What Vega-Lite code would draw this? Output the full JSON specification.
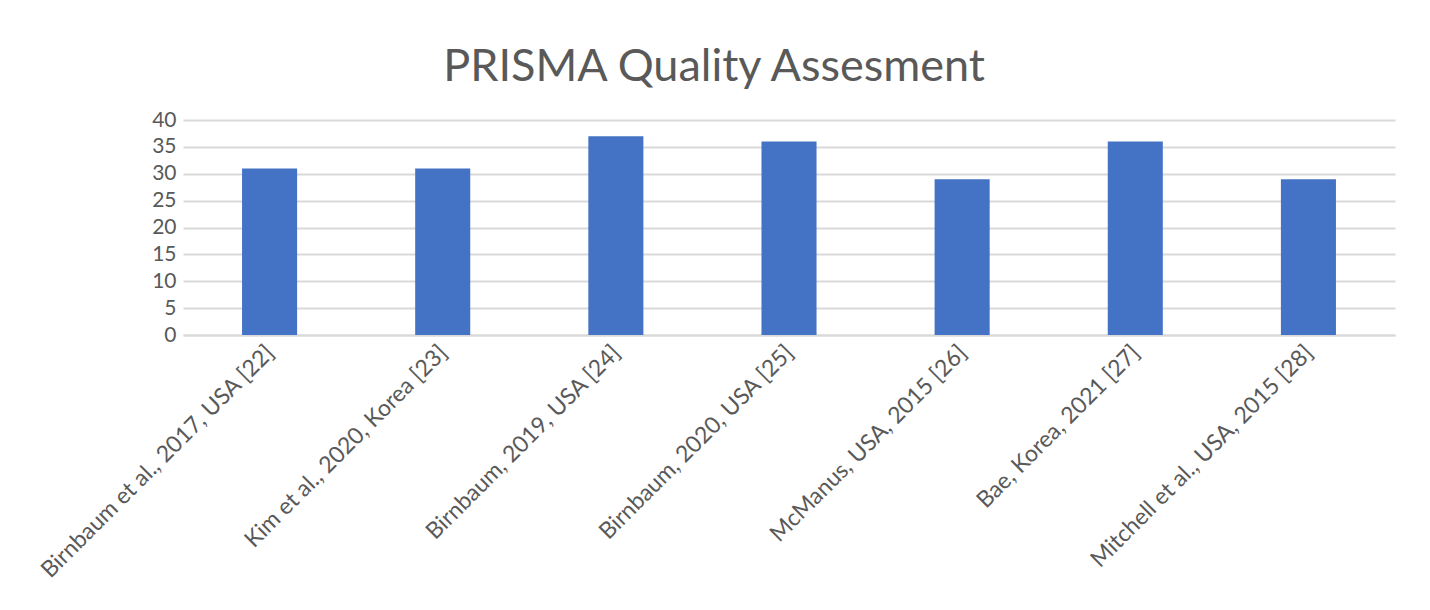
{
  "$schema": "https://vega.github.io/schema/vega-lite/v6.json",
  "width": 1212,
  "height": 215,
  "autosize": {"type": "none"},
  "padding": {"left": 183, "top": 120, "right": 35, "bottom": 275},
  "background": "white",
  "title": {
    "text": "PRISMA Quality Assesment",
    "font": "Lato",
    "fontSize": 45,
    "fontWeight": "normal",
    "color": "#595959",
    "anchor": "middle",
    "dx": -75,
    "offset": 19
  },
  "config": {
    "view": {"stroke": null},
    "font": "Lato"
  },
  "data": {
    "values": [
      {"study": "Birnbaum et al., 2017, USA [22]", "score": 31},
      {"study": "Kim et al., 2020, Korea [23]", "score": 31},
      {"study": "Birnbaum, 2019, USA [24]", "score": 37},
      {"study": "Birnbaum, 2020, USA [25]", "score": 36},
      {"study": "McManus, USA, 2015 [26]", "score": 29},
      {"study": "Bae, Korea, 2021 [27]", "score": 36},
      {"study": "Mitchell et al., USA, 2015 [28]", "score": 29}
    ]
  },
  "mark": {"type": "bar", "color": "#4472C4"},
  "encoding": {
    "x": {
      "field": "study",
      "type": "nominal",
      "sort": null,
      "title": null,
      "scale": {"paddingInner": 0.682, "paddingOuter": 0.341},
      "axis": {
        "labelAngle": -45,
        "labelAlign": "right",
        "labelBaseline": "top",
        "labelOffset": -7,
        "labelFont": "Lato",
        "labelFontSize": 23,
        "labelColor": "#595959",
        "labelPadding": 6,
        "ticks": false,
        "domainColor": "#d9d9d9",
        "domainWidth": 2,
        "labelLimit": 500
      }
    },
    "y": {
      "field": "score",
      "type": "quantitative",
      "title": null,
      "scale": {"domain": [0, 40]},
      "axis": {
        "values": [0, 5, 10, 15, 20, 25, 30, 35, 40],
        "labelFont": "Lato",
        "labelFontSize": 21,
        "labelColor": "#595959",
        "labelPadding": 7,
        "ticks": false,
        "domain": false,
        "gridColor": "#d9d9d9",
        "gridWidth": 2
      }
    }
  }
}
